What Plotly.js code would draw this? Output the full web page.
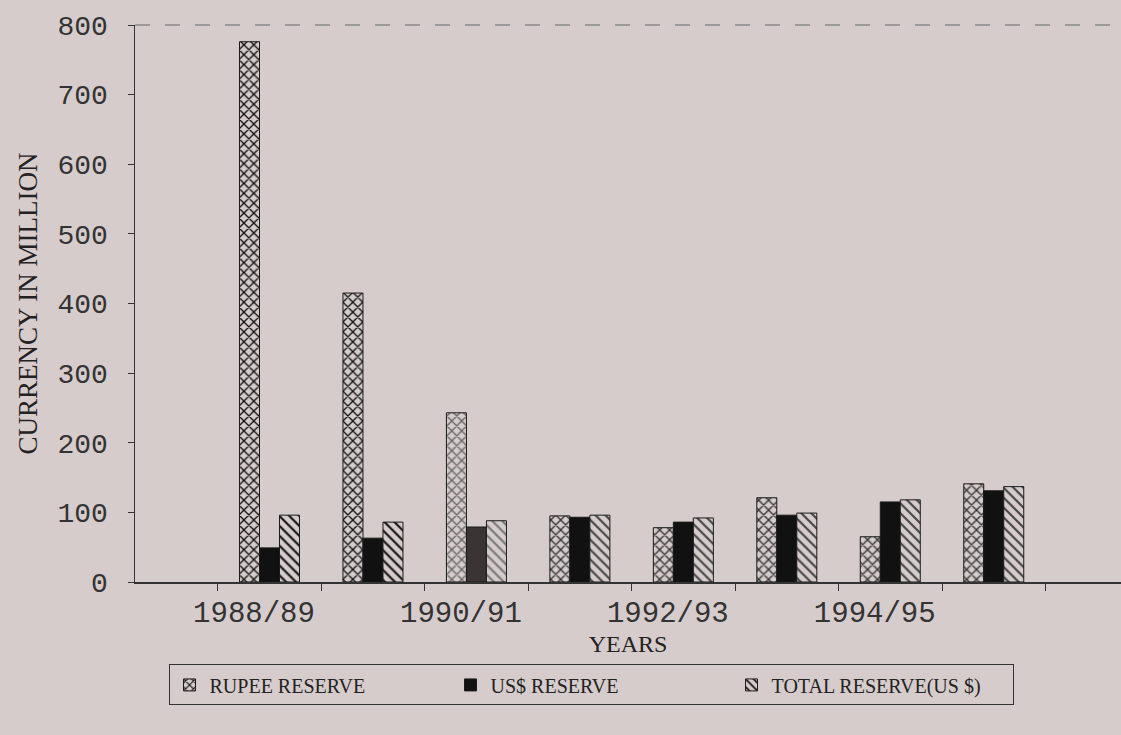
<!DOCTYPE html>
<html>
<head>
<meta charset="utf-8">
<script src="https://cdn.plot.ly/plotly-3.0.1.min.js"></script>
<style>html,body{margin:0;padding:0;background:#d6cccc;}#chart{width:1121px;height:735px;}</style>
</head>
<body>
<div id="chart"></div>
<script>
const years = ['1988/89','1989/90','1990/91','1991/92','1992/93','1993/94','1994/95','1995/96'];
const rupeeReserve = [776, 415, 243, 95, 78, 121, 65, 141];
const usdReserve = [49, 63, 79, 93, 86, 96, 115, 131];
const totalReserve = [96, 86, 88, 96, 92, 99, 118, 137];
const tickLabels = ['1988/89','1990/91','1992/93','1994/95'];

const xIdx = years.map((_, i) => i);
const tickPos = tickLabels.map(l => years.indexOf(l) - 0.15);

const paper = '#d6cccc';
const ink = '#1a1a1a';

const traces = [
  {
    type: 'bar', name: 'RUPEE RESERVE', x: xIdx, y: rupeeReserve,
    marker: {
      color: paper,
      line: {color: ink, width: 1},
      pattern: {shape: 'x', size: 7, solidity: 0.35,
        fgcolor: years.map((_, i) => i < 2 ? '#111' : (i === 2 ? '#666' : '#333')),
        bgcolor: paper}
    }
  },
  {
    type: 'bar', name: 'US$ RESERVE', x: xIdx, y: usdReserve,
    marker: {color: years.map((_, i) => i === 2 ? '#3a3434' : '#111'), line: {color: ink, width: 1}}
  },
  {
    type: 'bar', name: 'TOTAL RESERVE(US $)', x: xIdx, y: totalReserve,
    marker: {
      color: paper,
      line: {color: ink, width: 1},
      pattern: {shape: '\\', size: 7, solidity: 0.3,
        fgcolor: years.map((_, i) => i < 2 ? '#111' : (i === 2 ? '#777' : '#444')),
        bgcolor: paper}
    }
  }
];

const layout = {
  width: 1121, height: 735,
  paper_bgcolor: paper, plot_bgcolor: paper,
  margin: {l: 135, r: 0, t: 25, b: 153},
  barmode: 'group', bargap: 0.42, bargroupgap: 0,
  showlegend: true,
  legend: {
    orientation: 'h', x: 0.034, xanchor: 'left', y: -0.148, yanchor: 'top',
    bordercolor: '#333', borderwidth: 1, bgcolor: paper,
    entrywidth: 236, entrywidthmode: 'pixels',
    font: {family: 'Liberation Serif, serif', size: 20, color: '#222'}
  },
  xaxis: {
    type: 'linear', range: [-1.30, 8.23],
    tickvals: tickPos, ticktext: tickLabels, ticks: '',
    ticklabelstandoff: 4,
    showgrid: false, zeroline: false,
    showline: true, linecolor: '#333', linewidth: 1.5,
    tickfont: {family: 'Liberation Mono, monospace', size: 29, color: '#333'},
    minor: {tick0: 0.5, dtick: 1, ticks: 'outside', ticklen: 7, tickcolor: '#333', showgrid: false},
    title: {text: 'YEARS', font: {family: 'Liberation Serif, serif', size: 24, color: '#222'}, standoff: 2},
    fixedrange: true
  },
  yaxis: {
    range: [0, 800], dtick: 100, tick0: 0,
    ticks: 'outside', ticklen: 6, tickcolor: '#333',
    ticklabelstandoff: 14,
    showgrid: false, zeroline: false,
    showline: true, linecolor: '#333', linewidth: 1.5,
    tickfont: {family: 'Liberation Mono, monospace', size: 28, color: '#333'},
    title: {text: 'CURRENCY IN MILLION', font: {family: 'Liberation Serif, serif', size: 27, color: '#222'}, standoff: 12},
    fixedrange: true
  },
  shapes: [
    {type: 'line', xref: 'paper', yref: 'paper', x0: 0, x1: 1, y0: 1, y1: 1,
     line: {color: '#888', width: 1.5, dash: 'longdash'}}
  ]
};

Plotly.newPlot('chart', traces, layout, {displayModeBar: false, staticPlot: true});
</script>
</body>
</html>
